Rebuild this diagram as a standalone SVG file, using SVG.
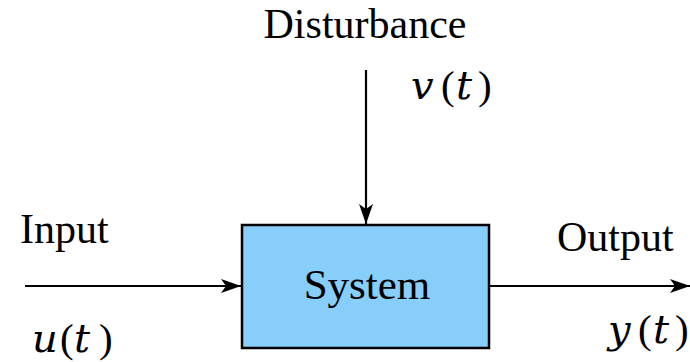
<svg xmlns="http://www.w3.org/2000/svg" width="690" height="362" viewBox="0 0 690 362">
<style>
.t{font-family:"Liberation Serif","Times New Roman",serif;fill:#000}
.m{font-family:"DejaVu Serif","Liberation Serif",serif;fill:#000;font-size:40px}
.i{font-style:italic}
.p{font-family:"Liberation Serif",serif;font-size:41px}
.c{stroke:#000;stroke-width:2.2;fill:none}
</style>
<defs>
<marker id="ah" viewBox="0 0 20 14" refX="20" refY="7" markerWidth="20" markerHeight="14" markerUnits="userSpaceOnUse" orient="auto">
<path d="M0,0 L20,7 L0,14 L5,7 Z" fill="#000"/>
</marker>
</defs>
<g id="connectors">
<line class="c" x1="25" y1="286" x2="241" y2="286" marker-end="url(#ah)"/>
<line class="c" x1="490" y1="286" x2="690" y2="286" marker-end="url(#ah)"/>
<line class="c" x1="366" y1="70" x2="366" y2="224" marker-end="url(#ah)"/>
</g>
<g id="system">
<rect x="242" y="225" width="247" height="123" fill="#87CEFA" stroke="#000" stroke-width="2.5"/>
<text class="t" x="367" y="299" font-size="43" text-anchor="middle">System</text>
</g>
<g id="disturbance">
<text class="t" x="365" y="38" font-size="42" text-anchor="middle">Disturbance</text>
<text class="m" y="99"><tspan class="i" x="411">v</tspan><tspan class="p" x="441">(</tspan><tspan class="i" x="456">t</tspan><tspan class="p" x="478">)</tspan></text>
</g>
<g id="input">
<text class="t" x="20" y="243" font-size="42">Input</text>
<text class="m" y="352"><tspan class="i" x="32">u</tspan><tspan class="p" x="60">(</tspan><tspan class="i" x="74">t</tspan><tspan class="p" x="99">)</tspan></text>
</g>
<g id="output">
<text class="t" x="557" y="251" font-size="42">Output</text>
<text class="m" y="343"><tspan class="i" x="608">y</tspan><tspan class="p" x="638">(</tspan><tspan class="i" x="653">t</tspan><tspan class="p" x="675">)</tspan></text>
</g>
</svg>
